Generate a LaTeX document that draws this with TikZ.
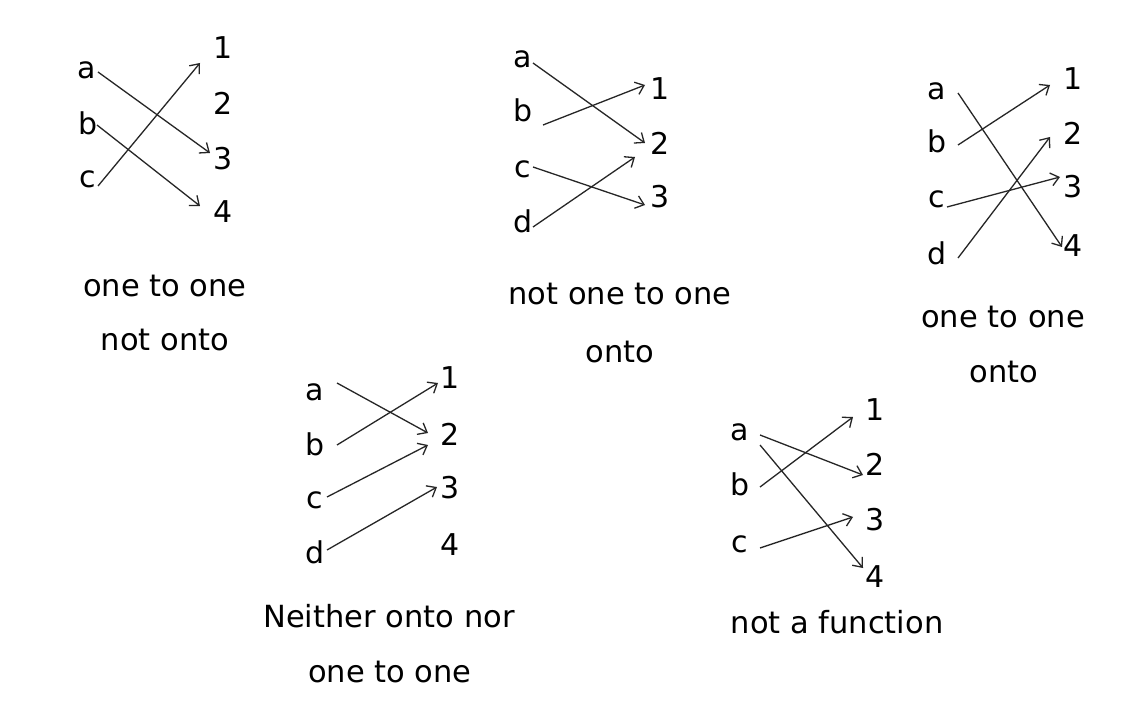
\documentclass[tikz,border=0pt]{standalone}
\usepackage{fontspec}
\setmainfont{DejaVu Sans}
\usetikzlibrary{arrows.meta,calc}
\tikzset{
  lbl/.style={anchor=base, inner sep=0pt, font=\fontsize{30}{36}\selectfont, text=black},
  captxt/.style={anchor=base, inner sep=0pt, font=\fontsize{30.5}{36}\selectfont, text=black},
  arr/.style={draw=black!85, line width=1.3pt, -{Straight Barb[length=8pt,width=13pt]}}
}
\newcommand{\arrw}[4]{\draw[arr] ($(#1.base)+#2$) -- ($(#3.base)+#4$);}
\begin{document}
\begin{tikzpicture}[x=1pt,y=-1pt]
\useasboundingbox[fill=white] (0,0) rectangle (1142,708);
% Diagram 1
\node[lbl] (Aa) at (87,79) {a};
\node[lbl] (Ab) at (88,135) {b};
\node[lbl] (Ac) at (88,188) {c};
\node[lbl] (A1) at (223,59) {1};
\node[lbl] (A2) at (223,115) {2};
\node[lbl] (A3) at (223,170) {3};
\node[lbl] (A4) at (223,223) {4};
\arrw{Aa}{(11,-7)}{A3}{(-13,-17)}
\arrw{Ab}{(9,-10)}{A4}{(-23,-17)}
\arrw{Ac}{(10,-2)}{A1}{(-23,4)}
\node[captxt] (Acap1) at (165,297) {one to one};
\node[captxt] (Acap2) at (165,350) {not onto};
% Diagram 2
\node[lbl] (Ba) at (523,68) {a};
\node[lbl] (Bb) at (523,122) {b};
\node[lbl] (Bc) at (523,178) {c};
\node[lbl] (Bd) at (523,233) {d};
\node[lbl] (B1) at (660,100) {1};
\node[lbl] (B2) at (660,155) {2};
\node[lbl] (B3) at (660,208) {3};
\arrw{Ba}{(10,-5)}{B2}{(-15,-12)}
\arrw{Bb}{(20,3)}{B1}{(-15,-15)}
\arrw{Bc}{(10,-11)}{B3}{(-15,-3)}
\arrw{Bd}{(10,-6)}{B2}{(-25,2)}
\node[captxt] (Bcap1) at (620,305) {not one to one};
\node[captxt] (Bcap2) at (620,362) {onto};
% Diagram 3
\node[lbl] (Ca) at (937,100) {a};
\node[lbl] (Cb) at (937,153) {b};
\node[lbl] (Cc) at (937,208) {c};
\node[lbl] (Cd) at (937,265) {d};
\node[lbl] (C1) at (1073,90) {1};
\node[lbl] (C2) at (1073,145) {2};
\node[lbl] (C3) at (1073,198) {3};
\node[lbl] (C4) at (1073,257) {4};
\arrw{Ca}{(21,-7)}{C4}{(-11,-10)}
\arrw{Cb}{(21,-8)}{C1}{(-23,-5)}
\arrw{Cc}{(10,-1)}{C3}{(-13,-21)}
\arrw{Cd}{(21,-7)}{C2}{(-23,-8)}
\node[captxt] (Ccap1) at (1003,327) {one to one};
\node[captxt] (Ccap2) at (1004,382) {onto};
% Diagram 4
\node[lbl] (Da) at (315,400) {a};
\node[lbl] (Db) at (315,455) {b};
\node[lbl] (Dc) at (315,508) {c};
\node[lbl] (Dd) at (315,563) {d};
\node[lbl] (D1) at (450,388) {1};
\node[lbl] (D2) at (450,445) {2};
\node[lbl] (D3) at (450,498) {3};
\node[lbl] (D4) at (450,555) {4};
\arrw{Da}{(22,-17)}{D2}{(-22,-12)}
\arrw{Db}{(22,-10)}{D1}{(-12,-5)}
\arrw{Dc}{(12,-11)}{D2}{(-22,0)}
\arrw{Dd}{(12,-13)}{D3}{(-13,-11)}
\node[captxt] (Dcap1) at (389,627) {Neither onto nor};
\node[captxt] (Dcap2) at (390,682) {one to one};
% Diagram 5
\node[lbl] (Ea) at (740,440) {a};
\node[lbl] (Eb) at (740,495) {b};
\node[lbl] (Ec) at (740,552) {c};
\node[lbl] (E1) at (875,420) {1};
\node[lbl] (E2) at (875,475) {2};
\node[lbl] (E3) at (875,530) {3};
\node[lbl] (E4) at (875,587) {4};
\arrw{Ea}{(20,-5)}{E2}{(-12,0)}
\arrw{Ea}{(20,5)}{E4}{(-12,-19)}
\arrw{Eb}{(20,-8)}{E1}{(-22,-3)}
\arrw{Ec}{(20,-4)}{E3}{(-22,-13)}
\node[captxt] (Ecap1) at (837,633) {not a function};
\end{tikzpicture}
\end{document}
